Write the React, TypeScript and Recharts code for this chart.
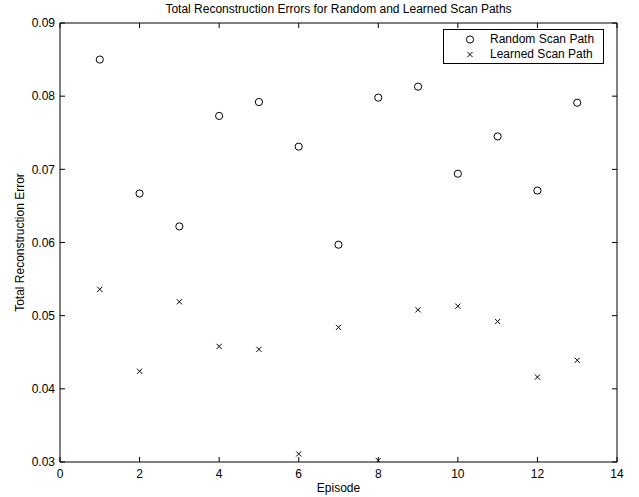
import {
  ScatterChart,
  Scatter,
  XAxis,
  YAxis,
  Legend,
} from "recharts";

const episodes = [1, 2, 3, 4, 5, 6, 7, 8, 9, 10, 11, 12, 13];
const randomErrors = [
  0.085, 0.0667, 0.0622, 0.0773, 0.0792, 0.0731, 0.0597, 0.0798, 0.0813,
  0.0694, 0.0745, 0.0671, 0.0791,
];
const learnedErrors = [
  0.0536, 0.0424, 0.0519, 0.0458, 0.0454, 0.0311, 0.0484, 0.0302, 0.0508,
  0.0513, 0.0492, 0.0416, 0.0439,
];
const seriesNames = ["Random Scan Path", "Learned Scan Path"];
const xTicks = [0, 2, 4, 6, 8, 10, 12, 14];
const yTicks = [0.03, 0.04, 0.05, 0.06, 0.07, 0.08, 0.09];

const randomData = episodes.map((x, i) => ({ x, y: randomErrors[i] }));
const learnedData = episodes.map((x, i) => ({ x, y: learnedErrors[i] }));

const font = "'Liberation Sans', Arial, Helvetica, sans-serif";
const tickStyle = { fill: "#000", fontSize: 12, fontFamily: font };

const CircleMark = (p: any) => (
  <circle cx={p.cx} cy={p.cy} r={3.6} fill="none" stroke="#000" strokeWidth={1} />
);

const CrossMark = (p: any) => {
  const s = 2.6;
  return (
    <path
      d={`M${p.cx - s},${p.cy - s}L${p.cx + s},${p.cy + s}M${p.cx - s},${p.cy + s}L${p.cx + s},${p.cy - s}`}
      stroke="#000"
      strokeWidth={1}
      fill="none"
    />
  );
};

// empty label so only the tick line shows
const NoLabel = () => <g />;

const renderLegend = () => (
  <div
    style={{
      width: 161,
      height: 35,
      boxSizing: "border-box",
      border: "1px solid #000",
      background: "#fff",
      position: "relative",
      fontFamily: font,
      fontSize: 12,
      color: "#000",
    }}
  >
    {seriesNames.map((name, i) => (
      <div
        key={name}
        style={{
          position: "absolute",
          left: 0,
          top: 2 + i * 15,
          height: 15,
          display: "flex",
          alignItems: "center",
        }}
      >
        <svg width={46} height={15} style={{ display: "block" }}>
          {i === 0 ? (
            <CircleMark cx={26} cy={7.5} />
          ) : (
            <CrossMark cx={26} cy={7.5} />
          )}
        </svg>
        <span style={{ lineHeight: "15px" }}>{name}</span>
      </div>
    ))}
  </div>
);

export default function App() {
  return (
    <div
      style={{
        position: "absolute",
        left: 0,
        top: 0,
        width: 639,
        height: 497,
        background: "#fff",
      }}
    >
      <div
        style={{
          position: "absolute",
          top: 0,
          left: 60,
          width: 557,
          textAlign: "center",
          fontFamily: font,
          fontSize: 12,
          lineHeight: "18px",
          color: "#000",
        }}
      >
        Total Reconstruction Errors for Random and Learned Scan Paths
      </div>
      <ScatterChart
        width={639}
        height={497}
        margin={{ top: 23, right: 22, bottom: 0, left: 0 }}
      >
        <XAxis
          type="number"
          dataKey="x"
          domain={[0, 14]}
          allowDataOverflow
          ticks={xTicks}
          height={35}
          tickLine={false}
          tickSize={0}
          tickMargin={7}
          axisLine={{ stroke: "#000" }}
          tick={tickStyle}
          label={{
            value: "Episode",
            position: "insideBottom",
            offset: 5,
            style: { fill: "#000", fontSize: 12, fontFamily: font },
          }}
        />
        <XAxis
          xAxisId="bottomTicks"
          type="number"
          dataKey="x"
          orientation="bottom"
          mirror
          domain={[0, 14]}
          allowDataOverflow
          ticks={xTicks}
          tick={NoLabel}
          tickSize={5}
          axisLine={false}
          tickLine={{ stroke: "#000" }}
        />
        <XAxis
          xAxisId="top"
          type="number"
          dataKey="x"
          orientation="top"
          mirror
          domain={[0, 14]}
          allowDataOverflow
          ticks={xTicks}
          tick={NoLabel}
          tickSize={5}
          axisLine={{ stroke: "#000" }}
          tickLine={{ stroke: "#000" }}
        />
        <YAxis
          type="number"
          dataKey="y"
          domain={[0.03, 0.09]}
          allowDataOverflow
          ticks={yTicks}
          width={60}
          tickLine={false}
          tickSize={0}
          tickMargin={5}
          axisLine={{ stroke: "#000" }}
          tick={tickStyle}
          tickFormatter={(v: number) => v.toFixed(2)}
          label={{
            value: "Total Reconstruction Error",
            angle: -90,
            position: "insideLeft",
            offset: 20,
            style: {
              fill: "#000",
              fontSize: 12,
              fontFamily: font,
              textAnchor: "middle",
            },
          }}
        />
        <YAxis
          yAxisId="leftTicks"
          type="number"
          dataKey="y"
          orientation="left"
          mirror
          domain={[0.03, 0.09]}
          allowDataOverflow
          ticks={yTicks}
          tick={NoLabel}
          tickSize={5}
          axisLine={false}
          tickLine={{ stroke: "#000" }}
        />
        <YAxis
          yAxisId="right"
          type="number"
          dataKey="y"
          orientation="right"
          mirror
          domain={[0.03, 0.09]}
          allowDataOverflow
          ticks={yTicks}
          tick={NoLabel}
          tickSize={5}
          axisLine={{ stroke: "#000" }}
          tickLine={{ stroke: "#000" }}
        />
        <Legend
          layout="horizontal"
          align="center"
          verticalAlign="middle"
          wrapperStyle={{ left: 443, top: 29, width: 161, height: 35 }}
          content={renderLegend}
        />
        <Scatter
          name="Random Scan Path"
          data={randomData}
          shape={CircleMark}
          isAnimationActive={false}
        />
        <Scatter
          name="Learned Scan Path"
          data={learnedData}
          shape={CrossMark}
          isAnimationActive={false}
        />
      </ScatterChart>
    </div>
  );
}
